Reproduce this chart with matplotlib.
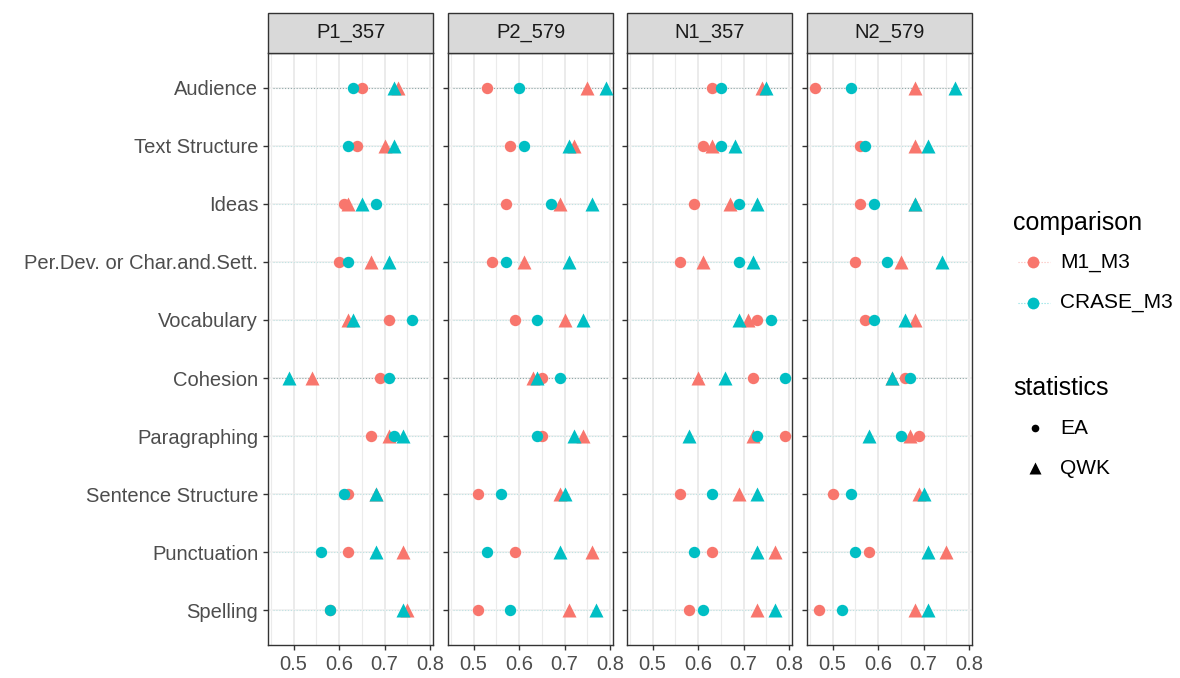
import matplotlib
matplotlib.use('Agg')
import matplotlib.pyplot as plt
from matplotlib.patches import Rectangle
from matplotlib.lines import Line2D
import numpy as np

plt.rcParams['font.family'] = ['Liberation Sans', 'DejaVu Sans']

traits = ["Audience", "Text Structure", "Ideas", "Per.Dev. or Char.and.Sett.",
          "Vocabulary", "Cohesion", "Paragraphing", "Sentence Structure",
          "Punctuation", "Spelling"]
panels = ["P1_357", "P2_579", "N1_357", "N2_579"]
comparisons = ["M1_M3", "CRASE_M3"]
statistics = ["EA", "QWK"]
x_ticks = [0.5, 0.6, 0.7, 0.8]

# values, one list per panel, in trait order
m1_ea = {
    "P1_357": [0.65, 0.64, 0.61, 0.60, 0.71, 0.69, 0.67, 0.62, 0.62, 0.58],
    "P2_579": [0.53, 0.58, 0.57, 0.54, 0.59, 0.65, 0.65, 0.51, 0.59, 0.51],
    "N1_357": [0.63, 0.61, 0.59, 0.56, 0.73, 0.72, 0.79, 0.56, 0.63, 0.58],
    "N2_579": [0.46, 0.56, 0.56, 0.55, 0.57, 0.66, 0.69, 0.50, 0.58, 0.47],
}
m1_qwk = {
    "P1_357": [0.73, 0.70, 0.62, 0.67, 0.62, 0.54, 0.71, 0.68, 0.74, 0.75],
    "P2_579": [0.75, 0.72, 0.69, 0.61, 0.70, 0.63, 0.74, 0.69, 0.76, 0.71],
    "N1_357": [0.74, 0.63, 0.67, 0.61, 0.71, 0.60, 0.72, 0.69, 0.77, 0.73],
    "N2_579": [0.68, 0.68, 0.68, 0.65, 0.68, 0.63, 0.67, 0.69, 0.75, 0.68],
}
crase_ea = {
    "P1_357": [0.63, 0.62, 0.68, 0.62, 0.76, 0.71, 0.72, 0.61, 0.56, 0.58],
    "P2_579": [0.60, 0.61, 0.67, 0.57, 0.64, 0.69, 0.64, 0.56, 0.53, 0.58],
    "N1_357": [0.65, 0.65, 0.69, 0.69, 0.76, 0.79, 0.73, 0.63, 0.59, 0.61],
    "N2_579": [0.54, 0.57, 0.59, 0.62, 0.59, 0.67, 0.65, 0.54, 0.55, 0.52],
}
crase_qwk = {
    "P1_357": [0.72, 0.72, 0.65, 0.71, 0.63, 0.49, 0.74, 0.68, 0.68, 0.74],
    "P2_579": [0.79, 0.71, 0.76, 0.71, 0.74, 0.64, 0.72, 0.70, 0.69, 0.77],
    "N1_357": [0.75, 0.68, 0.73, 0.72, 0.69, 0.66, 0.58, 0.73, 0.73, 0.77],
    "N2_579": [0.77, 0.71, 0.68, 0.74, 0.66, 0.63, 0.58, 0.70, 0.71, 0.71],
}

series = {
    ("M1_M3", "EA"): m1_ea, ("M1_M3", "QWK"): m1_qwk,
    ("CRASE_M3", "EA"): crase_ea, ("CRASE_M3", "QWK"): crase_qwk,
}
colors = {"M1_M3": "#F8766D", "CRASE_M3": "#00BFC4"}
markers = {"EA": ("o", 8.2), "QWK": ("^", 10.5)}

allv = np.concatenate([np.array(d[p]) for d in series.values() for p in panels])
lo, hi = allv.min(), allv.max()
pad = 0.05 * (hi - lo)

W, H = 1180, 678
fig = plt.figure(figsize=(W / 100, H / 100), dpi=100)
lefts = [268, 448, 627, 807]
pw = 165
top, bottom = 53, 645
strip_h = 40

ypos = np.arange(len(traits))
for k, (p, lx) in enumerate(zip(panels, lefts)):
    ax = fig.add_axes([lx / W, 1 - bottom / H, pw / W, (bottom - top) / H])
    ax.set_xlim(lo - pad, hi + pad)
    ax.set_ylim(len(traits) - 0.4, -0.6)
    ax.set_xticks(x_ticks)
    ax.set_xticks(np.arange(0.45, 0.85, 0.1), minor=True)
    ax.set_xticklabels([f"{t:.1f}" for t in x_ticks])
    ax.set_yticks(ypos)
    if k == 0:
        ax.set_yticklabels(traits)
    else:
        ax.set_yticklabels([])
        ax.tick_params(axis='y', length=0)
    ax.grid(True, which='major', axis='x', color='#ebebeb', lw=1.4, zorder=0)
    ax.grid(True, which='major', axis='y', color='#f0f0f0', lw=1.2, zorder=0)
    ax.grid(True, which='minor', axis='x', color='#ebebeb', lw=0.8, zorder=0)
    ax.set_axisbelow(True)
    ax.tick_params(axis='both', which='major', labelsize=14.5, labelcolor='#4d4d4d',
                   color='#333333', length=3.5, width=1)
    ax.tick_params(axis='x', which='minor', length=0)
    for s in ax.spines.values():
        s.set_color('#333333')
        s.set_linewidth(1.0)

    # dotted row lines
    x0, x1 = lo - pad * 0.3, hi + pad * 0.3
    for i in ypos:
        lc = '#8fa8a8' if traits[i] in ("Audience", "Cohesion") else '#bfe3e3'
        ax.plot([x0, x1], [i, i], color=lc, lw=0.8, ls=(0, (1, 1.6)), zorder=1)

    for c in comparisons:
        for st in statistics:
            m, ms = markers[st]
            ax.plot(series[(c, st)][p], ypos, ls='none', marker=m, ms=ms,
                    color=colors[c], mec='none', zorder=3)

    ax.add_patch(Rectangle((0, 1), 1, strip_h / (bottom - top), transform=ax.transAxes,
                           facecolor='#d9d9d9', edgecolor='#333333', lw=1.0,
                           clip_on=False, zorder=5))
    ax.text(0.5, 1 + strip_h / 2 / (bottom - top), p, transform=ax.transAxes,
            ha='center', va='center', fontsize=14.5, color='#1a1a1a', zorder=6)

# legends drawn by hand in figure coordinates
def fx(x):
    return x / W

def fy(y):
    return 1 - y / H

fig.text(fx(1013), fy(223), "comparison", fontsize=18, color='black', va='center', ha='left')
for c, y in zip(comparisons, [262, 303]):
    fig.add_artist(Line2D([fx(1018), fx(1050)], [fy(y), fy(y)], color=colors[c], lw=0.8,
                          ls=(0, (1, 1.6)), alpha=0.5))
    fig.add_artist(Line2D([fx(1033)], [fy(y)], marker='o', ms=8.5, color=colors[c], mec='none'))
    fig.text(fx(1060), fy(y), c, fontsize=15, color='black', va='center', ha='left')

fig.text(fx(1013), fy(388), "statistics", fontsize=18, color='black', va='center', ha='left')
for st, y, ms in zip(statistics, [428, 468], [5.5, 8.5]):
    fig.add_artist(Line2D([fx(1035)], [fy(y)], marker=markers[st][0], ms=ms, color='black', mec='none'))
    fig.text(fx(1060), fy(y), st, fontsize=15, color='black', va='center', ha='left')

fig.savefig("out.png", dpi=100)
